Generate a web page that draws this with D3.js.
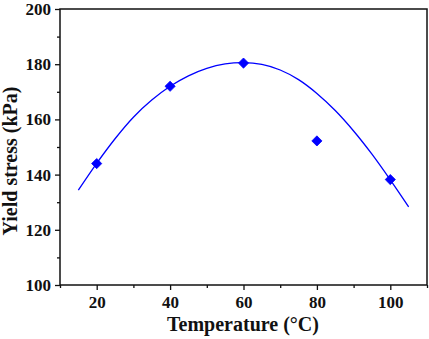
<!DOCTYPE html>
<html><head><meta charset="utf-8">
<script src="https://cdn.jsdelivr.net/npm/d3@7"></script>
<style>body{margin:0;background:#fff}svg{display:block}</style>
</head><body>
<svg id="c" width="429" height="339"></svg>
<script>
const temps = [20, 40, 60, 80, 100];
const stress = [144, 172, 180.4, 152.2, 138.2];
const fitX = [15, 20, 25, 30, 35, 40, 45, 50, 55, 60, 65, 70, 75, 80, 85, 90, 95, 100, 105];
const fitY = [134.4, 144.1, 153.0, 160.8, 167.0, 172.0, 175.8, 178.5, 180.1, 180.6, 179.9, 177.9, 174.4, 169.4, 163.2, 155.8, 147.4, 138.1, 128.3];
const xTicks = [20, 40, 60, 80, 100];
const yTicks = [100, 120, 140, 160, 180, 200];
const xTitle = "Temperature (°C)";
const yTitle = "Yield stress (kPa)";

const L = 60, R = 427, T = 9, B = 285;
const svg = d3.select("#c");
const x = d3.scaleLinear().domain([10, 110]).range([L, R]);
const y = d3.scaleLinear().domain([100, 200]).range([B, T]);
const font = "'Liberation Serif','Times New Roman',serif";
const col = "#0000ff";

const xMinor = d3.range(10, 111, 10).filter(v => !xTicks.includes(v));
const yMinor = d3.range(110, 200, 20);

const xAxis = svg.append("g").attr("transform", `translate(0,${B})`)
  .call(d3.axisBottom(x).tickValues(xTicks).tickSize(5).tickPadding(6).tickSizeOuter(0));
const xAxisMinor = svg.append("g").attr("transform", `translate(0,${B})`)
  .call(d3.axisBottom(x).tickValues(xMinor).tickSize(3).tickFormat("").tickSizeOuter(0));
const yAxis = svg.append("g").attr("transform", `translate(${L},0)`)
  .call(d3.axisLeft(y).tickValues(yTicks).tickSize(5).tickPadding(4).tickSizeOuter(0));
const yAxisMinor = svg.append("g").attr("transform", `translate(${L},0)`)
  .call(d3.axisLeft(y).tickValues(yMinor).tickSize(3).tickFormat("").tickSizeOuter(0));

[xAxis, xAxisMinor, yAxis, yAxisMinor].forEach(g => {
  g.selectAll("path").remove();
  g.selectAll("line").attr("stroke", "#111").attr("stroke-width", 1.3);
  g.selectAll("text").attr("font-family", font).attr("font-weight", "bold")
    .attr("font-size", 17).attr("fill", "#111");
});

svg.append("rect").attr("x", L).attr("y", T).attr("width", R - L).attr("height", B - T)
  .attr("fill", "none").attr("stroke", "#111").attr("stroke-width", 1.5);

const pts = fitX.map((v, i) => [v, fitY[i]]);
svg.append("path").datum(pts)
  .attr("d", d3.line().x(d => x(d[0])).y(d => y(d[1])).curve(d3.curveCatmullRom))
  .attr("fill", "none").attr("stroke", col).attr("stroke-width", 1.3);

svg.selectAll(".m").data(temps).enter().append("path")
  .attr("transform", (d, i) => `translate(${x(d)},${y(stress[i])})`)
  .attr("d", d3.symbol().type(d3.symbolDiamond2).size(66))
  .attr("fill", col).attr("stroke", col).attr("stroke-width", 0.8);

svg.append("text").attr("x", 243).attr("y", 331).attr("text-anchor", "middle")
  .attr("font-family", font).attr("font-weight", "bold").attr("font-size", 20).attr("fill", "#111")
  .text(xTitle);
svg.append("text").attr("transform", `translate(17,161) rotate(-90)`).attr("text-anchor", "middle")
  .attr("font-family", font).attr("font-weight", "bold").attr("font-size", 20).attr("fill", "#111")
  .text(yTitle);
</script>
</body></html>
